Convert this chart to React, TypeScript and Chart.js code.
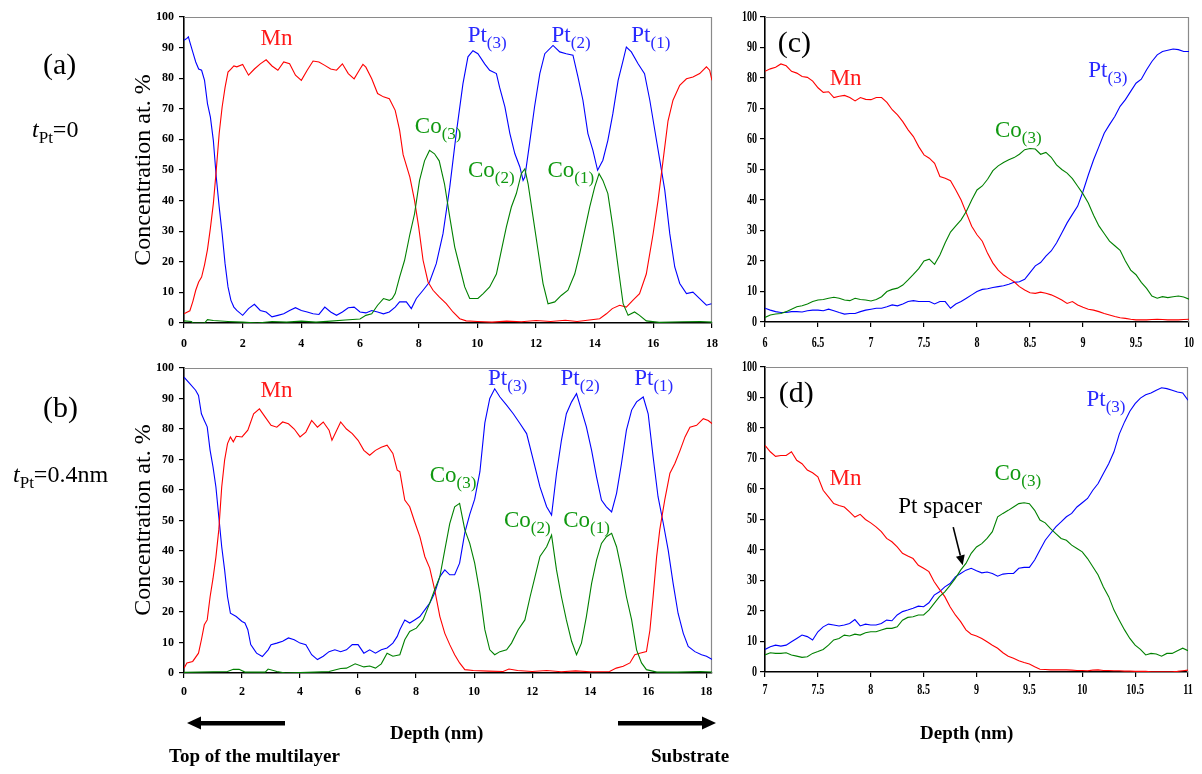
import React, { useEffect, useRef } from "react";
import { Chart, registerables } from "chart.js";

Chart.register(...registerables);

const SERIF = '"Liberation Serif", "Times New Roman", serif';
const MN_COLOR = "#ff0000";
const PT_COLOR = "#0000ff";
const CO_COLOR = "#008000";
const MN_TEXT = "#ff1a1a";
const PT_TEXT = "#2a2aff";
const CO_TEXT = "#119911";

type P = [number, number];

// ---------- Panel (a): tPt = 0, depth 0–18 nm ----------
const aMn: P[] = [
  [0, 3], [0.1, 3.5], [0.2, 4], [0.3, 7], [0.4, 10.7], [0.5, 13.4], [0.6, 15], [0.7, 19], [0.8, 24], [0.9, 31],
  [1.0, 39], [1.1, 50], [1.2, 62], [1.3, 70.6], [1.4, 77], [1.5, 82], [1.6, 83], [1.7, 84], [1.8, 83.7], [2.0, 84.5],
  [2.2, 81], [2.4, 83], [2.6, 84.7], [2.8, 86], [3.0, 84], [3.2, 82.6], [3.4, 85.3], [3.6, 84.7], [3.8, 81], [4.0, 79.3],
  [4.2, 82.6], [4.4, 85.6], [4.6, 85.3], [4.8, 84.2], [5.0, 83], [5.2, 82.6], [5.4, 84.7], [5.6, 81.5], [5.8, 79.8], [6.0, 83],
  [6.1, 84.5], [6.2, 83.6], [6.4, 79.8], [6.6, 75], [6.8, 73.9], [7.0, 73.3], [7.2, 69.5], [7.35, 63], [7.47, 55], [7.7, 47.7],
  [7.86, 40], [8.0, 31.4], [8.15, 20.5], [8.32, 13.4], [8.49, 10.7], [8.7, 8.5], [8.94, 6.3], [9.17, 3.6], [9.4, 1.4], [9.62, 0.7],
  [10.0, 0.5], [10.5, 0.3], [11.0, 0.6], [11.5, 0.4], [12.0, 0.8], [12.5, 0.5], [13.0, 0.9], [13.4, 0.5], [14.17, 1.4], [14.4, 3],
  [14.6, 4.7], [14.85, 5.8], [15.08, 5.2], [15.3, 7.4], [15.53, 9.6], [15.76, 16], [15.99, 29], [16.16, 40], [16.33, 53], [16.5, 66],
  [16.67, 72.8], [16.9, 77.7], [17.13, 79.8], [17.35, 80.4], [17.58, 81.5], [17.81, 83.7], [17.92, 82.6], [18.0, 79.3],
];
const aPt: P[] = [
  [0, 92.4], [0.1, 93], [0.15, 93.5], [0.2, 91.8], [0.3, 88.5], [0.4, 85.3], [0.5, 83], [0.6, 82.6], [0.7, 79.3], [0.8, 71.7],
  [0.9, 67.3], [1.0, 59.7], [1.1, 47.7], [1.2, 37.9], [1.3, 29.2], [1.4, 19.4], [1.5, 11.8], [1.6, 7.4], [1.7, 5.2], [1.8, 4.1],
  [2.0, 2.5], [2.2, 4.7], [2.4, 6.1], [2.6, 4.1], [2.8, 3.6], [3.0, 2], [3.2, 2.5], [3.4, 3], [3.6, 4.1], [3.8, 5],
  [4.0, 4.1], [4.2, 3.6], [4.4, 3], [4.6, 2.8], [4.8, 5.2], [5.0, 3.6], [5.2, 2.5], [5.4, 3.6], [5.6, 5], [5.8, 5.2],
  [6.0, 3.6], [6.2, 3.3], [6.4, 4.1], [6.6, 3.6], [6.8, 3], [7.0, 3.6], [7.2, 5.2], [7.35, 6.9], [7.58, 6.9], [7.75, 4.7],
  [7.92, 8], [8.15, 10.7], [8.37, 13.4], [8.6, 19.4], [8.83, 29.2], [9.06, 44.4], [9.28, 61.9], [9.51, 78.2], [9.68, 87], [9.85, 89],
  [10.02, 88], [10.25, 84.7], [10.42, 82.6], [10.65, 81.5], [10.76, 77], [10.94, 70.6], [11.11, 61.9], [11.28, 55.3], [11.45, 51], [11.56, 46.6],
  [11.62, 47.7], [11.78, 58.6], [11.95, 70.6], [12.13, 81.5], [12.3, 88], [12.58, 90.7], [12.81, 88.6], [13.03, 88], [13.26, 87.5], [13.43, 80.4],
  [13.6, 72.8], [13.77, 61.9], [13.94, 56.4], [14.1, 49.9], [14.28, 53.2], [14.45, 59.7], [14.62, 68.4], [14.8, 79.3], [14.97, 85.8], [15.08, 90.2],
  [15.25, 88.6], [15.48, 84.7], [15.7, 81.5], [15.88, 72.8], [16.05, 63], [16.22, 53.2], [16.39, 43.4], [16.56, 29.2], [16.73, 18.3], [16.9, 12.9],
  [17.13, 9.6], [17.35, 10.1], [17.58, 8], [17.81, 5.8], [17.98, 6.3],
];
const aCo: P[] = [
  [0, 0.7], [0.25, 0.5], [0.3, 0], [0.7, 0], [0.8, 1.1], [1.0, 0.8], [1.5, 0.5], [2.0, 0.3], [2.5, 0], [3.0, 0.5],
  [3.5, 0.3], [4.0, 0.6], [4.5, 0.3], [5.0, 0.6], [5.5, 1.0], [6.0, 1.3], [6.2, 2.5], [6.4, 3], [6.6, 5.8], [6.8, 8],
  [7.0, 7.4], [7.1, 8], [7.2, 9.6], [7.35, 15], [7.52, 20.5], [7.7, 29], [7.86, 35.7], [8.03, 46.6], [8.2, 53], [8.37, 56.4],
  [8.54, 55.3], [8.7, 53], [8.88, 45.5], [9.06, 34.6], [9.23, 24.8], [9.4, 18.3], [9.57, 11.8], [9.74, 8], [10.02, 8], [10.2, 9.6],
  [10.42, 11.8], [10.65, 16], [10.82, 23.7], [10.99, 31.4], [11.16, 37.9], [11.33, 42.3], [11.5, 48.8], [11.62, 50.4], [11.73, 45.5], [11.9, 34.6],
  [12.07, 23.7], [12.24, 12.9], [12.41, 6.3], [12.64, 6.9], [12.86, 9], [13.09, 10.7], [13.32, 16], [13.49, 22.7], [13.66, 30.3], [13.83, 37.9],
  [14.0, 44.4], [14.15, 48.8], [14.28, 46.6], [14.45, 42.3], [14.62, 31.4], [14.8, 18.3], [14.97, 6.3], [15.14, 2.5], [15.36, 3.6], [15.53, 2.5],
  [15.76, 0.7], [16.2, 0.2], [17.0, 0.4], [17.6, 0.5], [18.0, 0.3],
];

// ---------- Panel (b): tPt = 0.4 nm, depth 0–18.2 nm ----------
const bMn: P[] = [
  [0, 1.6], [0.1, 3.3], [0.3, 3.8], [0.5, 6.5], [0.6, 10.9], [0.7, 15.8], [0.8, 17.4], [0.9, 25], [1.0, 31], [1.1, 38],
  [1.2, 47], [1.3, 61], [1.4, 69.8], [1.5, 75.2], [1.6, 77.4], [1.7, 75.8], [1.8, 77.6], [2.0, 77.4], [2.2, 79.6], [2.4, 85],
  [2.6, 86.6], [2.8, 83.9], [3.0, 81.2], [3.2, 80.6], [3.4, 82.3], [3.6, 81.7], [3.8, 80], [4.0, 77.4], [4.2, 79], [4.4, 82.8],
  [4.6, 80.6], [4.8, 82.3], [5.0, 79.6], [5.1, 76.3], [5.4, 82.3], [5.6, 80], [5.8, 78.5], [6.0, 76.3], [6.2, 73], [6.4, 71.4],
  [6.6, 73], [6.8, 74], [7.0, 74.7], [7.2, 72], [7.35, 66.5], [7.44, 66], [7.61, 56.7], [7.78, 54.5], [7.95, 49.6], [8.13, 44.7],
  [8.3, 38.2], [8.47, 34.4], [8.64, 27.3], [8.82, 18.5], [8.99, 13], [9.16, 9.3], [9.33, 6], [9.5, 3.3], [9.68, 1.1], [9.97, 0.8],
  [10.5, 0.6], [11.0, 0.5], [11.2, 1.3], [11.5, 0.8], [12.0, 0.5], [12.5, 0.8], [13.0, 0.4], [13.5, 0.7], [14.0, 0.4], [14.67, 0.5],
  [14.9, 1.6], [15.14, 2.2], [15.37, 3.3], [15.54, 6], [15.71, 6.5], [15.94, 7], [16.06, 14], [16.17, 25], [16.29, 38], [16.4, 47],
  [16.57, 56.7], [16.75, 65.5], [16.92, 68.7], [17.1, 73], [17.27, 77.4], [17.44, 80.6], [17.67, 81.2], [17.9, 83.4], [18.07, 82.8], [18.21, 81.7],
];
const bPt: P[] = [
  [0, 97], [0.2, 94.9], [0.4, 92.7], [0.5, 91], [0.6, 85], [0.7, 82.8], [0.8, 80.7], [0.9, 73], [1.0, 67.6], [1.1, 61],
  [1.2, 51.2], [1.3, 41.4], [1.4, 33.8], [1.5, 25], [1.6, 19.6], [1.8, 18.5], [2.0, 16.9], [2.1, 16.4], [2.2, 14.2], [2.3, 9.3],
  [2.5, 6.5], [2.7, 5.4], [2.9, 7.6], [3.0, 9.3], [3.2, 9.8], [3.4, 10.4], [3.6, 11.5], [3.8, 10.9], [4.0, 9.8], [4.2, 9.3],
  [4.4, 6], [4.6, 4.4], [4.8, 5.5], [5.0, 7], [5.2, 7.6], [5.4, 7], [5.6, 7.6], [5.8, 9.3], [6.0, 9.3], [6.2, 6.5],
  [6.4, 7.6], [6.6, 6.5], [6.8, 7.6], [7.0, 8.2], [7.2, 9.8], [7.35, 12], [7.44, 14.2], [7.61, 17.4], [7.78, 16.4], [7.95, 17.4],
  [8.13, 18.5], [8.3, 20.7], [8.47, 22.9], [8.64, 26.2], [8.82, 31.6], [8.99, 33.8], [9.16, 32.2], [9.33, 32.2], [9.5, 36], [9.68, 46],
  [9.85, 52], [10.02, 57], [10.2, 66], [10.37, 82], [10.54, 90], [10.71, 93.2], [10.89, 90.5], [11.12, 87.8], [11.35, 85], [11.58, 81.8],
  [11.81, 78.5], [12.04, 69.8], [12.27, 61], [12.5, 54.5], [12.67, 51.8], [12.84, 65.4], [13.01, 76.3], [13.18, 85], [13.36, 88.9], [13.53, 91.6],
  [13.7, 86.2], [13.87, 80.7], [14.05, 73], [14.22, 64.3], [14.39, 56.7], [14.56, 54.5], [14.74, 52.8], [14.91, 58.9], [15.08, 68.7], [15.25, 79.6],
  [15.43, 86.2], [15.6, 88.9], [15.83, 90.5], [16.0, 85], [16.17, 70.9], [16.34, 57.8], [16.52, 49.1], [16.69, 40.3], [16.86, 29.4], [17.03, 19.6],
  [17.21, 13], [17.38, 8.7], [17.61, 7], [17.84, 6], [18.01, 5.5], [18.21, 4.4],
];
const bCo: P[] = [
  [0, 0.2], [1.5, 0.5], [1.7, 1.2], [1.9, 1.2], [2.1, 0.3], [2.8, 0.3], [2.9, 1.3], [3.2, 0.5], [3.5, 0], [4.5, 0.3],
  [5.0, 0.5], [5.4, 1.5], [5.6, 1.6], [5.9, 3], [6.2, 2], [6.4, 2.3], [6.6, 1.6], [6.8, 3], [7.0, 6.5], [7.2, 5.5],
  [7.44, 6], [7.61, 10.9], [7.78, 13.6], [8.01, 14.7], [8.24, 17.4], [8.47, 22.9], [8.64, 27.3], [8.82, 31.6], [8.99, 40.4], [9.16, 49],
  [9.33, 54.5], [9.5, 55.6], [9.68, 46.9], [9.85, 42.5], [10.02, 36], [10.2, 26.2], [10.37, 14.2], [10.54, 7.6], [10.71, 6], [10.89, 7],
  [11.12, 7.6], [11.29, 9.8], [11.52, 14.2], [11.75, 17.4], [11.93, 25], [12.1, 31.6], [12.27, 38.2], [12.5, 41.4], [12.67, 45.2], [12.84, 33.8],
  [13.01, 25], [13.18, 17.4], [13.36, 10.4], [13.53, 6], [13.7, 9.8], [13.87, 18.5], [14.05, 29.4], [14.22, 37], [14.39, 42.5], [14.56, 44.7],
  [14.74, 45.8], [14.91, 41.4], [15.08, 33.8], [15.25, 25], [15.43, 17.4], [15.6, 7.6], [15.77, 3.3], [15.94, 1.1], [16.3, 0.3], [17.0, 0.3],
  [17.8, 0.5], [18.21, 0.3],
];

// ---------- Panel (c): zoom of (a), depth 6–10 nm ----------
const cDepth = [
  6, 6.05, 6.1, 6.15, 6.2, 6.25, 6.3, 6.35, 6.4, 6.45, 6.5, 6.55, 6.6, 6.65, 6.7, 6.75, 6.8, 6.85, 6.9, 6.95,
  7, 7.05, 7.1, 7.15, 7.2, 7.25, 7.3, 7.35, 7.4, 7.45, 7.5, 7.55, 7.6, 7.65, 7.7, 7.75, 7.8, 7.85, 7.9, 7.95,
  8, 8.05, 8.1, 8.15, 8.2, 8.25, 8.3, 8.35, 8.4, 8.45, 8.5, 8.55, 8.6, 8.65, 8.7, 8.75, 8.8, 8.85, 8.9, 8.95,
  9, 9.05, 9.1, 9.15, 9.2, 9.25, 9.3, 9.35, 9.4, 9.45, 9.5, 9.55, 9.6, 9.65, 9.7, 9.75, 9.8, 9.85, 9.9, 9.95, 10,
];
const cMn = [
  82.2, 83, 83.5, 84.6, 84, 82.2, 81.6, 80.5, 80.2, 79, 76.8, 75.3, 75.5, 73.6, 74, 74.3, 73.6, 72.5, 73.6, 73,
  72.9, 73.6, 73.6, 72, 69.6, 67.9, 65.7, 63, 60.8, 57.5, 54.8, 53.7, 52, 47.7, 47.1, 46.3, 43.3, 40, 35.7, 31.4,
  28.6, 26.5, 22.5, 19.3, 17, 15.4, 14.3, 13.2, 11.6, 10.5, 9.6, 9.4, 9.8, 9.4, 8.9, 8.1, 7.2, 6.1, 6.7, 5.6,
  4.8, 4.2, 3.9, 3.4, 2.8, 2.3, 1.8, 1.4, 1.2, 0.9, 0.7, 0.7, 0.7, 0.8, 0.9, 0.8, 0.7, 0.7, 0.7, 0.8, 0.9,
];
const cCo = [
  1.5, 2.3, 2.6, 2.8, 3.4, 4.2, 5, 5.3, 5.9, 6.7, 7.2, 7.4, 7.8, 8.1, 7.8, 7.2, 7, 7.8, 7.4, 7.2,
  6.9, 7.4, 8.3, 10, 10.7, 11.1, 12.1, 13.8, 15.6, 17.5, 20, 20.6, 18.9, 22, 26, 29.5, 31.5, 33.5, 36.3, 40,
  43.3, 44.6, 46.8, 49.6, 51.2, 52.3, 53.2, 53.9, 55, 56.5, 56.9, 56.7, 55, 55.6, 54, 51.5, 50, 48.8, 47, 44.5,
  42, 39, 35, 31.5, 29, 26.5, 25, 23.5, 20, 17, 15.5, 13, 11, 8.5, 7.8, 8.3, 8, 8.3, 8.5, 8.2, 7.5,
];
const cPt = [
  4.5, 3.9, 3.4, 3.1, 3.1, 3.4, 3.4, 3.3, 3.7, 3.9, 3.9, 3.7, 4.2, 3.7, 3.1, 2.6, 2.8, 2.8, 3.4, 3.9,
  4.2, 4.5, 4.5, 5, 5.6, 5.3, 5.9, 6.7, 7, 6.7, 6.7, 6.7, 5.9, 6.7, 6.7, 4.5, 5.9, 6.7, 7.8, 8.9,
  10, 10.7, 10.9, 11.3, 11.6, 11.9, 12.4, 13, 13.2, 14, 16.2, 18.4, 19.5, 21.6, 23.3, 25.9, 29.2, 32.5, 35.3, 38,
  42.8, 48.2, 53.2, 57.5, 61.9, 64.7, 67.4, 70.7, 72.9, 75.6, 78.3, 79.6, 82.7, 85.4, 87.6, 88.7, 89.1, 89.5, 89.3, 88.7, 88.7,
];

// ---------- Panel (d): zoom of (b), depth 7–11 nm ----------
const dDepth = [
  7, 7.05, 7.1, 7.15, 7.2, 7.25, 7.3, 7.35, 7.4, 7.45, 7.5, 7.55, 7.6, 7.65, 7.7, 7.75, 7.8, 7.85, 7.9, 7.95,
  8, 8.05, 8.1, 8.15, 8.2, 8.25, 8.3, 8.35, 8.4, 8.45, 8.5, 8.55, 8.6, 8.65, 8.7, 8.75, 8.8, 8.85, 8.9, 8.95,
  9, 9.05, 9.1, 9.15, 9.2, 9.25, 9.3, 9.35, 9.4, 9.45, 9.5, 9.55, 9.6, 9.65, 9.7, 9.75, 9.8, 9.85, 9.9, 9.95,
  10, 10.05, 10.1, 10.15, 10.2, 10.25, 10.3, 10.35, 10.4, 10.45, 10.5, 10.55, 10.6, 10.65, 10.7, 10.75, 10.8, 10.85, 10.9, 10.95, 11,
];
const dMn = [
  74.3, 72.2, 70.7, 71, 71, 72.2, 69.4, 68.3, 66.2, 65.3, 64, 59.6, 57.4, 55.2, 54.6, 54.1, 52.5, 50.8, 51.7, 50,
  48.9, 47.6, 46, 43.8, 42.7, 41, 38.9, 38, 37.2, 35, 34, 32.9, 29.6, 27.1, 24.7, 21.4, 18.7, 16.5, 13.8, 12.4,
  11.8, 11, 9.9, 8.8, 7.8, 6.3, 5.2, 4.5, 3.7, 3.1, 2.6, 1.7, 0.9, 0.8, 0.7, 0.7, 0.7, 0.7, 0.6, 0.5,
  0.5, 0.4, 0.6, 0.7, 0.5, 0.5, 0.4, 0.4, 0.3, 0.3, 0.2, 0.2, 0.2, 0.1, 0.1, 0.1, 0.1, 0.1, 0.2, 0.4, 0.6,
];
const dPt = [
  7.4, 8.3, 8.8, 8.5, 8.8, 9.9, 11, 12.1, 11.6, 10.5, 13.2, 14.8, 15.7, 15.4, 15.1, 15.4, 15.9, 17.2, 15.1, 15.7,
  15.4, 15.4, 15.9, 17, 16.8, 18.7, 19.8, 20.3, 20.9, 21.6, 21.4, 22.7, 25.2, 26.3, 27.9, 29, 31.2, 32.3, 33.4, 34,
  33.2, 32.5, 32.8, 32.3, 31.4, 32.1, 32.3, 32.3, 34, 34.3, 34.3, 36.7, 40, 43.2, 45.4, 47.6, 49.2, 50.9, 52, 54.1,
  55.5, 56.9, 59.6, 61.8, 65.1, 68.3, 72.2, 78, 82, 85.5, 88, 89.8, 90.9, 91.5, 92.4, 93.2, 92.9, 92.4, 91.8, 91.5, 89.1,
];
const dCo = [
  5.6, 6.3, 6.1, 6.1, 6.3, 5.6, 5.2, 4.8, 5, 6.1, 6.7, 7.4, 8.8, 10.5, 11, 12.1, 11.8, 12.4, 12.1, 12.9,
  13.2, 13.2, 13.8, 14.3, 14.3, 14.8, 17, 17.9, 18.1, 18.7, 18.7, 20.3, 22.5, 24.7, 26.3, 28.4, 30.7, 33.4, 35.6, 38.9,
  41, 42.1, 43.8, 46, 50.9, 52, 53, 54.1, 55.2, 55.5, 55.2, 53, 49.8, 48.9, 47, 45.4, 43.8, 43.2, 41.6, 40.5,
  39.4, 37.2, 34.5, 31.8, 27.9, 24.7, 20.3, 17, 13.8, 11, 8.8, 7.4, 5.6, 6.1, 5.9, 5.2, 6.1, 6.1, 7, 7.8, 7,
];

const yTicks = [0, 10, 20, 30, 40, 50, 60, 70, 80, 90, 100];

const fromPairs = (pts: P[]) => pts.map(([x, y]) => ({ x, y }));
const zipXY = (xs: number[], ys: number[]) => xs.map((x, i) => ({ x, y: ys[i] }));
const fmt = (v: number) => String(Math.round(v * 100) / 100);

interface Label { x: number; y: number; text: string; sub?: string; color: string; size?: number }
interface Arrow { x1: number; y1: number; x2: number; y2: number }
interface TickStyle { size: number; sx: number; xOff: number; yOff: number }

const annotPlugin = {
  id: "annot",
  beforeDatasetsDraw(chart: any) {
    const a = chart.chartArea;
    const ctx = chart.ctx;
    ctx.save();
    ctx.strokeStyle = "#8a8a8a";
    ctx.lineWidth = 1.2;
    ctx.beginPath();
    ctx.moveTo(a.left, a.top + 0.5);
    ctx.lineTo(a.right - 0.5, a.top + 0.5);
    ctx.lineTo(a.right - 0.5, a.bottom);
    ctx.stroke();
    ctx.restore();
  },
  afterDraw(chart: any, _args: any, opts: any) {
    const ctx = chart.ctx;
    const xs = chart.scales.x;
    const ys = chart.scales.y;
    const a = chart.chartArea;
    ctx.save();
    // tick labels (condensed bold serif, as in the original figure)
    const ts: TickStyle = opts.tick;
    ctx.fillStyle = "#000";
    ctx.font = `bold ${ts.size}px ${SERIF}`;
    ctx.textBaseline = "middle";
    for (const t of xs.ticks) {
      const px = xs.getPixelForValue(t.value);
      ctx.save();
      ctx.translate(px, a.bottom + ts.xOff);
      ctx.scale(ts.sx, 1);
      ctx.textAlign = "center";
      ctx.fillText(fmt(t.value), 0, 0);
      ctx.restore();
    }
    for (const t of ys.ticks) {
      const py = ys.getPixelForValue(t.value);
      ctx.save();
      ctx.translate(a.left - ts.yOff, py);
      ctx.scale(ts.sx, 1);
      ctx.textAlign = "right";
      ctx.fillText(fmt(t.value), 0, 0);
      ctx.restore();
    }
    // in-plot labels
    ctx.textBaseline = "alphabetic";
    ctx.textAlign = "left";
    for (const l of (opts.labels || []) as Label[]) {
      const px = xs.getPixelForValue(l.x);
      const py = ys.getPixelForValue(l.y);
      const size = l.size || 23;
      ctx.fillStyle = l.color;
      ctx.font = `${size}px ${SERIF}`;
      ctx.fillText(l.text, px, py);
      if (l.sub) {
        const w = ctx.measureText(l.text).width;
        ctx.font = `17px ${SERIF}`;
        ctx.fillText(l.sub, px + w, py + 6);
      }
    }
    for (const ar of (opts.arrows || []) as Arrow[]) {
      const x1 = xs.getPixelForValue(ar.x1), y1 = ys.getPixelForValue(ar.y1);
      const x2 = xs.getPixelForValue(ar.x2), y2 = ys.getPixelForValue(ar.y2);
      const ang = Math.atan2(y2 - y1, x2 - x1);
      const hl = 10, hw = 4.5;
      const bx = x2 - hl * Math.cos(ang), by = y2 - hl * Math.sin(ang);
      ctx.strokeStyle = "#000";
      ctx.fillStyle = "#000";
      ctx.lineWidth = 1.6;
      ctx.beginPath();
      ctx.moveTo(x1, y1);
      ctx.lineTo(bx, by);
      ctx.stroke();
      ctx.beginPath();
      ctx.moveTo(x2, y2);
      ctx.lineTo(bx + hw * Math.sin(ang), by - hw * Math.cos(ang));
      ctx.lineTo(bx - hw * Math.sin(ang), by + hw * Math.cos(ang));
      ctx.closePath();
      ctx.fill();
    }
    ctx.restore();
  },
};

interface Series { data: { x: number; y: number }[]; color: string }
interface PanelProps {
  left: number; top: number; width: number; height: number;
  yW: number; padTop: number; padRight: number;
  xMin: number; xMax: number; xStep: number;
  tick: TickStyle;
  series: Series[]; labels: Label[]; arrows?: Arrow[];
}

function Panel(p: PanelProps) {
  const ref = useRef<HTMLCanvasElement>(null);
  useEffect(() => {
    if (!ref.current) return;
    const hiddenTicks = { color: "rgba(0,0,0,0)", font: { family: SERIF, size: 10 } };
    const chart = new Chart(ref.current, {
      type: "line",
      data: {
        datasets: p.series.map((s) => ({
          data: s.data,
          borderColor: s.color,
          backgroundColor: s.color,
          borderWidth: 1.1,
          pointRadius: 0,
          fill: false,
          tension: 0,
        })),
      },
      options: {
        animation: false,
        responsive: false,
        devicePixelRatio: 1,
        layout: { padding: { top: p.padTop, right: p.padRight, left: 0, bottom: 0 } },
        plugins: {
          legend: { display: false },
          tooltip: { enabled: false },
          annot: { labels: p.labels, arrows: p.arrows || [], tick: p.tick },
        } as any,
        scales: {
          x: {
            type: "linear",
            min: p.xMin,
            max: p.xMax,
            ticks: { ...hiddenTicks, stepSize: p.xStep, includeBounds: false, autoSkip: false, maxRotation: 0 },
            grid: { display: true, drawOnChartArea: false, drawTicks: true, tickLength: 5, color: "#000", lineWidth: 1.2 },
            border: { display: true, color: "#000", width: 1.6 },
            afterFit: (s: any) => { s.height = 28; s.paddingLeft = 0; s.paddingRight = 0; },
          },
          y: {
            type: "linear",
            min: yTicks[0],
            max: yTicks[yTicks.length - 1],
            afterBuildTicks: (s: any) => { s.ticks = yTicks.map((v) => ({ value: v })); },
            ticks: { ...hiddenTicks, autoSkip: false },
            grid: { display: true, drawOnChartArea: false, drawTicks: true, tickLength: 5, color: "#000", lineWidth: 1.2 },
            border: { display: true, color: "#000", width: 1.6 },
            afterFit: (s: any) => { s.width = p.yW; s.paddingTop = 0; s.paddingBottom = 0; },
          },
        },
      } as any,
      plugins: [annotPlugin as any],
    });
    return () => chart.destroy();
  }, []);
  return (
    <canvas
      ref={ref}
      width={p.width}
      height={p.height}
      style={{ position: "absolute", left: p.left, top: p.top, width: p.width, height: p.height }}
    />
  );
}

export default function App() {
  const seriesA: Series[] = [
    { data: fromPairs(aCo), color: CO_COLOR },
    { data: fromPairs(aMn), color: MN_COLOR },
    { data: fromPairs(aPt), color: PT_COLOR },
  ];
  const seriesB: Series[] = [
    { data: fromPairs(bCo), color: CO_COLOR },
    { data: fromPairs(bMn), color: MN_COLOR },
    { data: fromPairs(bPt), color: PT_COLOR },
  ];
  const seriesC: Series[] = [
    { data: zipXY(cDepth, cCo), color: CO_COLOR },
    { data: zipXY(cDepth, cMn), color: MN_COLOR },
    { data: zipXY(cDepth, cPt), color: PT_COLOR },
  ];
  const seriesD: Series[] = [
    { data: zipXY(dDepth, dCo), color: CO_COLOR },
    { data: zipXY(dDepth, dMn), color: MN_COLOR },
    { data: zipXY(dDepth, dPt), color: PT_COLOR },
  ];

  const labelsA: Label[] = [
    { x: 2.61, y: 90.7, text: "Mn", color: MN_TEXT },
    { x: 9.67, y: 91.7, text: "Pt", sub: "(3)", color: PT_TEXT },
    { x: 12.53, y: 91.7, text: "Pt", sub: "(2)", color: PT_TEXT },
    { x: 15.25, y: 91.7, text: "Pt", sub: "(1)", color: PT_TEXT },
    { x: 7.87, y: 62.1, text: "Co", sub: "(3)", color: CO_TEXT },
    { x: 9.68, y: 47.7, text: "Co", sub: "(2)", color: CO_TEXT },
    { x: 12.39, y: 47.7, text: "Co", sub: "(1)", color: CO_TEXT },
  ];
  const labelsB: Label[] = [
    { x: 2.64, y: 90.5, text: "Mn", color: MN_TEXT },
    { x: 10.48, y: 94.3, text: "Pt", sub: "(3)", color: PT_TEXT },
    { x: 12.98, y: 94.3, text: "Pt", sub: "(2)", color: PT_TEXT },
    { x: 15.52, y: 94.3, text: "Pt", sub: "(1)", color: PT_TEXT },
    { x: 8.47, y: 62.7, text: "Co", sub: "(3)", color: CO_TEXT },
    { x: 11.03, y: 48, text: "Co", sub: "(2)", color: CO_TEXT },
    { x: 13.07, y: 48, text: "Co", sub: "(1)", color: CO_TEXT },
  ];
  const labelsC: Label[] = [
    { x: 6.12, y: 88.4, text: "(c)", color: "#000", size: 30 },
    { x: 6.61, y: 77.8, text: "Mn", color: MN_TEXT },
    { x: 9.05, y: 80.3, text: "Pt", sub: "(3)", color: PT_TEXT },
    { x: 8.17, y: 60.8, text: "Co", sub: "(3)", color: CO_TEXT },
  ];
  const labelsD: Label[] = [
    { x: 7.13, y: 88.5, text: "(d)", color: "#000", size: 30 },
    { x: 7.61, y: 61.2, text: "Mn", color: MN_TEXT },
    { x: 10.04, y: 87.1, text: "Pt", sub: "(3)", color: PT_TEXT },
    { x: 9.17, y: 63.1, text: "Co", sub: "(3)", color: CO_TEXT },
    { x: 8.26, y: 52, text: "Pt spacer", color: "#000" },
  ];
  const arrowsD: Arrow[] = [{ x1: 8.78, y1: 47.5, x2: 8.87, y2: 35 }];

  const tickAB: TickStyle = { size: 12, sx: 1, xOff: 21, yOff: 10 };
  const tickB: TickStyle = { size: 12, sx: 1, xOff: 18.5, yOff: 10 };
  const tickC: TickStyle = { size: 14, sx: 0.72, xOff: 21.5, yOff: 8 };
  const tickD: TickStyle = { size: 14, sx: 0.72, xOff: 18, yOff: 8 };

  return (
    <div style={{ position: "absolute", left: 0, top: 0, width: 1202, height: 774, background: "#fff", overflow: "hidden" }}>
      <Panel left={134} top={7} width={588} height={344} yW={50} padTop={10} padRight={10}
        xMin={0} xMax={18} xStep={2} tick={tickAB} series={seriesA} labels={labelsA} />
      <Panel left={134} top={358} width={588} height={343} yW={50} padTop={10} padRight={10}
        xMin={0} xMax={18.2} xStep={2} tick={tickB} series={seriesB} labels={labelsB} />
      <Panel left={720} top={7} width={479} height={343} yW={45} padTop={10} padRight={10}
        xMin={6} xMax={10} xStep={0.5} tick={tickC} series={seriesC} labels={labelsC} />
      <Panel left={720} top={357} width={478} height={343} yW={45} padTop={10} padRight={10}
        xMin={7} xMax={11} xStep={0.5} tick={tickD} series={seriesD} labels={labelsD} arrows={arrowsD} />
      <svg width={1202} height={774} style={{ position: "absolute", left: 0, top: 0, pointerEvents: "none" }}
        fontFamily={SERIF}>
        <text x={43} y={74} fontSize={30}>(a)</text>
        <text x={32} y={137} fontSize={24}>
          <tspan fontStyle="italic">t</tspan>
          <tspan fontSize={17} dy={6}>Pt</tspan>
          <tspan dy={-6}>=0</tspan>
        </text>
        <text x={43} y={417} fontSize={30}>(b)</text>
        <text x={13} y={482} fontSize={24}>
          <tspan fontStyle="italic">t</tspan>
          <tspan fontSize={17} dy={6}>Pt</tspan>
          <tspan dy={-6}>=0.4nm</tspan>
        </text>
        <text transform="translate(150,170) rotate(-90)" textAnchor="middle" fontSize={24}>Concentration at. %</text>
        <text transform="translate(150,520) rotate(-90)" textAnchor="middle" fontSize={24}>Concentration at. %</text>
        <text x={390} y={739} fontSize={19} fontWeight="bold">Depth (nm)</text>
        <text x={920} y={739} fontSize={19} fontWeight="bold">Depth (nm)</text>
        <text x={169} y={762} fontSize={19} fontWeight="bold">Top of the multilayer</text>
        <text x={651} y={762} fontSize={19} fontWeight="bold">Substrate</text>
        <rect x={199} y={721} width={86} height={4.5} fill="#000" />
        <polygon points="187,723 201,716.5 201,729.5" fill="#000" />
        <rect x={618} y={721} width={86} height={4.5} fill="#000" />
        <polygon points="716,723 702,716.5 702,729.5" fill="#000" />
      </svg>
    </div>
  );
}
